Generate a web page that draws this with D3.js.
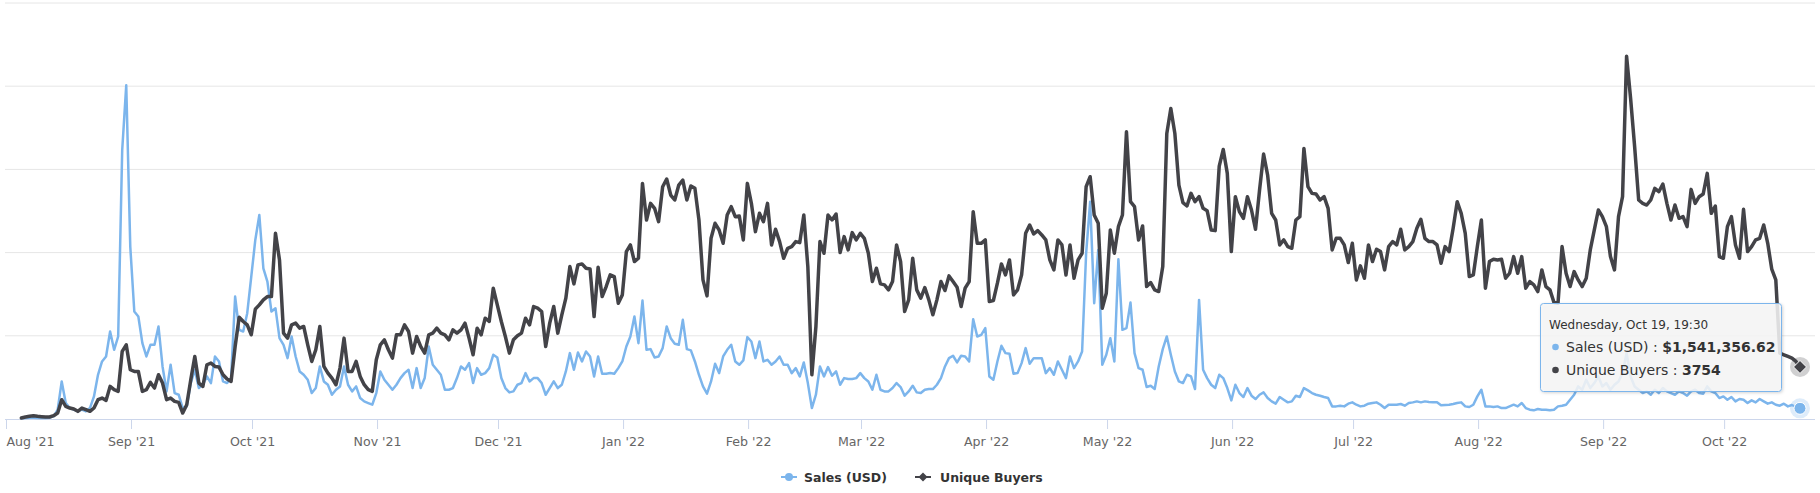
<!DOCTYPE html>
<html><head><meta charset="utf-8">
<script src="https://cdn.jsdelivr.net/npm/d3@7"></script>
<style>
html,body{margin:0;padding:0;background:#fff;}
svg{display:block;font-family:"DejaVu Sans",sans-serif;}
</style></head><body>
<svg id="chart" width="1820" height="493"></svg>
<script>
// ---- data ----
const firstPoint = "2021-08-04T19:30:00Z";   // daily points, one per day
const uniqueBuyers = [
72,144,192,240,192,168,144,144,240,432,
1392,912,792,720,552,792,672,552,792,1392,
1512,1344,2352,2112,1992,4872,5352,3552,3432,3432,
1992,2112,2640,2232,3192,2592,1392,1512,1272,1200,
432,1032,2832,4512,2592,2352,3912,4032,3792,3744,
3192,2880,2712,5232,7344,7032,6792,6072,7920,8232,
8592,8832,8832,13392,11472,6192,5832,6792,6912,6552,
6672,5352,4152,4992,6672,3792,3312,2952,2472,3672,
5832,3432,3432,4152,3072,2472,2112,1992,4272,5352,
5712,4992,4392,6072,6072,6792,6312,4752,5952,5232,
4752,6072,6192,6552,6192,6072,5712,6432,6192,6432,
6912,5832,4632,6552,6072,7272,7032,9432,8232,7032,
5952,4752,5712,6000,6192,7272,6792,8112,7992,7752,
5232,6912,8112,6192,7512,8712,10992,9744,11112,11184,
10872,10824,7392,10944,8832,9552,10392,10272,8352,8952,
12072,12552,11352,11592,16992,14352,15552,15192,14232,16752,
17304,16152,15792,16872,17232,15792,16800,16632,14352,10032,
8880,13032,14112,13632,12672,14712,15312,14592,14640,12912,
16992,15552,13512,14832,14232,15552,12552,13680,12792,11592,
12312,12432,12792,12720,14712,10992,3192,6672,12792,11952,
14712,14352,14784,12000,13152,12192,13440,12912,13392,13032,
11952,9912,10872,9744,9672,9312,9912,12552,11352,7752,
8592,11592,9312,8712,9480,8592,7512,8592,9912,9264,
10320,9912,9504,8112,9432,9912,14952,12672,12672,12912,
8472,8544,9792,11184,10392,11472,8952,9312,10392,13392,
13992,13344,13584,13272,12912,11472,10752,12912,12552,10392,
12552,10152,11472,11952,16752,17472,14712,14112,7992,9072,
13632,11952,13872,14712,20712,15672,15312,12912,13920,9552,
9840,9312,9192,10992,20592,22392,20592,16872,15600,15360,
16272,15672,16032,15192,15024,13632,13584,18240,19440,17712,
12072,16032,14952,14472,16032,15072,13680,16512,19104,17592,
14832,14352,12552,12912,12432,12312,14352,14592,19512,16752,
16272,16224,15792,16032,15192,12192,13032,13032,12552,11280,
12672,10032,11040,10152,12552,11352,12240,12072,10752,12432,
12792,12552,13680,12192,12432,12792,13752,14400,13032,12792,
12792,12552,11232,12432,12072,13752,15672,14832,13392,10272,
10392,12432,14352,9432,11352,11520,11472,11520,10152,10512,
11712,10512,11712,9432,9912,9672,9192,10752,9552,9312,
8400,
8352,12432,10512,9552,10632,10032,9552,10152,12192,13632,
15072,14592,13872,11712,10752,14592,16032,26160,23112,19632,
15792,15552,15432,15792,16632,16392,16944,15552,14352,15432,
14472,14592,13872,16560,15552,16032,16224,17712,14832,15360,
11712,11592,13872,14592,12552,11592,15120,12072,12432,12912,
13032,13992,12672,10800,10032,4752,4632,4512,4392,4152,3754
];
// Sales in millions of USD
const salesMillionsUSD = [
0.10,0.14,0.19,0.19,0.14,0.14,0.14,0.19,0.38,1.34,
5.42,2.30,1.58,1.34,1.10,1.34,1.10,1.58,3.26,6.38,
8.30,9.02,12.62,9.98,11.90,38.78,48.14,24.86,15.50,14.78,
10.94,9.02,10.70,10.70,13.34,7.58,3.98,7.82,3.74,3.50,
1.58,1.82,5.18,7.10,4.46,4.94,6.14,5.18,9.02,8.30,
5.42,5.18,5.90,17.66,12.86,12.62,15.26,20.54,25.82,29.42,
21.74,19.82,15.50,15.98,11.66,10.70,8.78,11.90,9.02,6.86,
6.38,5.66,3.74,4.46,7.58,5.42,4.94,3.50,4.22,4.70,
7.58,4.94,3.98,4.70,3.02,2.54,2.30,2.06,3.74,6.86,
5.66,4.94,4.22,4.94,5.90,6.62,7.10,4.46,7.34,4.46,
5.90,10.46,7.82,7.10,6.38,4.22,4.22,4.46,5.90,7.58,
7.10,8.06,5.18,7.34,6.38,6.62,7.34,9.26,8.88,5.90,
4.46,3.84,3.98,4.94,5.18,6.62,5.42,5.90,5.90,5.18,
3.50,4.46,5.42,4.46,4.94,6.86,9.50,7.10,9.60,8.30,
9.74,9.02,6.14,9.02,6.53,6.53,6.62,6.53,7.34,8.30,
10.46,11.90,14.78,10.94,17.09,9.98,10.08,8.88,9.02,10.22,
13.34,11.66,10.85,10.70,14.30,10.08,9.89,8.30,6.38,4.70,
3.65,5.42,7.97,6.62,9.02,9.98,10.70,8.30,7.82,8.45,
11.81,11.18,8.78,11.18,8.30,8.54,7.82,8.30,9.02,7.82,
7.82,6.62,7.34,6.14,8.16,5.18,1.58,3.50,7.58,6.14,
7.49,6.24,6.86,4.94,5.90,5.76,5.76,5.90,6.62,5.90,
5.42,4.22,6.38,4.22,3.98,3.98,4.46,5.18,4.61,3.36,
3.98,4.80,3.84,3.74,4.22,4.32,4.32,4.94,5.90,7.58,
8.78,9.12,8.16,9.12,9.02,8.30,14.40,11.90,12.14,13.10,
6.14,5.66,8.30,10.56,9.50,9.41,6.53,6.62,8.06,10.22,
7.97,8.78,8.78,8.78,6.62,7.34,6.38,8.30,7.10,5.90,
9.02,7.34,8.30,9.74,23.90,31.34,16.70,24.38,7.82,9.26,
11.66,8.30,23.04,12.86,13.10,16.80,9.50,7.34,7.10,4.61,
4.80,4.32,7.58,10.08,11.90,9.26,6.86,5.42,5.18,6.38,
6.14,4.32,17.18,7.10,5.90,4.94,4.46,6.38,5.90,4.46,
2.69,4.94,3.74,3.17,4.46,3.36,2.88,3.50,3.84,3.02,
2.54,2.21,3.17,2.78,2.40,2.54,3.36,3.17,4.46,4.13,
3.74,3.50,3.36,3.17,3.02,1.82,1.82,1.92,1.82,2.21,
2.40,2.06,1.82,1.92,2.21,2.30,2.40,2.06,1.58,2.06,
2.06,2.06,2.16,1.92,2.30,2.40,2.54,2.40,2.54,2.45,
2.40,2.40,1.97,2.02,2.06,2.16,2.30,2.40,1.82,1.73,
2.06,3.26,4.22,1.82,1.82,1.73,1.82,1.58,1.58,1.82,
2.06,1.82,2.30,1.58,1.34,1.25,1.44,1.34,1.34,1.25,
1.34,
1.82,1.92,2.06,2.78,3.50,4.70,4.22,5.66,4.46,5.18,
6.14,4.70,5.18,4.22,4.94,5.42,6.62,9.50,6.14,4.70,
4.22,3.74,3.98,3.50,4.22,3.74,4.46,3.98,3.74,3.50,
3.98,3.74,3.36,3.98,4.22,3.74,3.65,4.70,3.98,3.74,
3.02,3.26,2.78,3.17,2.54,2.88,2.78,2.30,2.69,2.40,
2.88,2.54,2.21,2.40,2.06,1.92,2.21,1.82,2.02,1.73,1.541356
];
const buyersTicks = [0, 6000, 12000, 18000, 24000, 30000];
const salesTicksM = [0, 12, 24, 36, 48, 60];
const seriesNames = ["Sales (USD)", "Unique Buyers"];
const seriesColors = ["#7cb5ec", "#434348"];
const tooltipHeader = "Wednesday, Oct 19, 19:30";
const tooltipSales = "$1,541,356.62";
const tooltipBuyers = "3754";

// ---- layout ----
const svg = d3.select("#chart");
const plotL = 5, plotR = 1815, plotT = 3, plotB = 419;

const dates = uniqueBuyers.map((_, i) => d3.utcDay.offset(new Date(firstPoint), i));
const x = d3.scaleUtc()
  .domain([new Date("2021-08-01T00:00:00Z"), new Date("2022-10-19T19:30:00Z")])
  .range([6, 1800]);
const yB = d3.scaleLinear().domain([0, 30000]).range([plotB, plotT]);
const yS = d3.scaleLinear().domain([0, 60]).range([plotB, plotT]);

// grid
svg.append("g").selectAll("line").data(buyersTicks.slice(1)).join("line")
  .attr("x1", plotL).attr("x2", plotR)
  .attr("y1", d => yB(d)).attr("y2", d => yB(d))
  .attr("stroke", "#e6e6e6").attr("stroke-width", 1);

// x axis
const months = d3.utcMonth.range(new Date("2021-08-01T00:00:00Z"), new Date("2022-10-02T00:00:00Z"));
const xAxis = svg.append("g").attr("transform", `translate(0,${plotB})`)
  .call(d3.axisBottom(x).tickValues(months).tickSize(10).tickPadding(8)
        .tickFormat(d3.utcFormat("%b '%y")));
xAxis.select(".domain").remove();
xAxis.selectAll(".tick line").attr("stroke", "#ccd6eb");
xAxis.selectAll(".tick text").attr("fill", "#666666").attr("font-size", "12.6px")
  .attr("font-family", "DejaVu Sans, sans-serif");
xAxis.select(".tick text").attr("text-anchor", "start").attr("x", 0);
svg.append("line").attr("x1", plotL).attr("x2", plotR).attr("y1", plotB + 0.5).attr("y2", plotB + 0.5)
  .attr("stroke", "#ccd6eb").attr("stroke-width", 1);

// lines
const lineS = d3.line().x((d, i) => x(dates[i])).y(d => yS(d));
const lineB = d3.line().x((d, i) => x(dates[i])).y(d => yB(d));
svg.append("path").datum(salesMillionsUSD).attr("d", lineS)
  .attr("fill", "none").attr("stroke", seriesColors[0]).attr("stroke-width", 2.5)
  .attr("stroke-linejoin", "round").attr("stroke-linecap", "round");
svg.append("path").datum(uniqueBuyers).attr("d", lineB)
  .attr("fill", "none").attr("stroke", seriesColors[1]).attr("stroke-width", 3.5)
  .attr("stroke-linejoin", "round").attr("stroke-linecap", "round");

// hover markers on last point
const li = uniqueBuyers.length - 1;
const lx = x(dates[li]);
const diamond = (cx, cy, r) => `M${cx},${cy - r}L${cx + r},${cy}L${cx},${cy + r}L${cx - r},${cy}Z`;
svg.append("circle").attr("cx", lx).attr("cy", yS(salesMillionsUSD[li])).attr("r", 10)
  .attr("fill", seriesColors[0]).attr("opacity", 0.25);
svg.append("circle").attr("cx", lx).attr("cy", yS(salesMillionsUSD[li])).attr("r", 6)
  .attr("fill", seriesColors[0]).attr("stroke", "#fff").attr("stroke-width", 1);
svg.append("circle").attr("cx", lx).attr("cy", yB(uniqueBuyers[li])).attr("r", 10)
  .attr("fill", seriesColors[1]).attr("opacity", 0.25);
svg.append("path").attr("d", diamond(lx, yB(uniqueBuyers[li]), 6.5))
  .attr("fill", seriesColors[1]).attr("stroke", "#fff").attr("stroke-width", 1);

// legend
const leg = svg.append("g").attr("font-size", "12.5px").attr("font-weight", "bold").attr("fill", "#333333");
const legItems = [{sx: 781, tx: 804, sym: "circle"}, {sx: 915, tx: 940, sym: "diamond"}];
const ly = 477;
legItems.forEach((it, k) => {
  leg.append("line").attr("x1", it.sx).attr("x2", it.sx + 16).attr("y1", ly).attr("y2", ly)
    .attr("stroke", seriesColors[k]).attr("stroke-width", 2);
  if (it.sym === "circle") leg.append("circle").attr("cx", it.sx + 8).attr("cy", ly).attr("r", 4).attr("fill", seriesColors[k]);
  else leg.append("path").attr("d", diamond(it.sx + 8, ly, 4.5)).attr("fill", seriesColors[k]);
  leg.append("text").attr("x", it.tx).attr("y", ly + 4.5).text(seriesNames[k]);
});

// tooltip
const defs = svg.append("defs");
const f = defs.append("filter").attr("id", "sh").attr("x", "-10%").attr("y", "-10%").attr("width", "130%").attr("height", "140%");
f.append("feDropShadow").attr("dx", 1).attr("dy", 1).attr("stdDeviation", 1.5)
  .attr("flood-color", "#000").attr("flood-opacity", 0.18);
const tt = svg.append("g");
tt.append("rect").attr("x", 1540.5).attr("y", 303.5).attr("width", 241).attr("height", 88).attr("rx", 3)
  .attr("fill", "rgba(247,247,247,0.85)").attr("stroke", seriesColors[0]).attr("stroke-width", 1)
  .attr("filter", "url(#sh)");
tt.append("text").attr("x", 1549).attr("y", 329).attr("font-size", "12px").attr("fill", "#333333").text(tooltipHeader);
const rows = [[seriesNames[0], tooltipSales, 352], [seriesNames[1], tooltipBuyers, 375]];
rows.forEach((r, k) => {
  tt.append("circle").attr("cx", 1555.5).attr("cy", r[2] - 5).attr("r", 3.3).attr("fill", seriesColors[k]);
  const t = tt.append("text").attr("x", 1566).attr("y", r[2]).attr("font-size", "14px").attr("fill", "#333333");
  t.append("tspan").text(r[0] + " : ");
  t.append("tspan").attr("font-weight", "bold").text(r[1]);
});
</script>
</body></html>
